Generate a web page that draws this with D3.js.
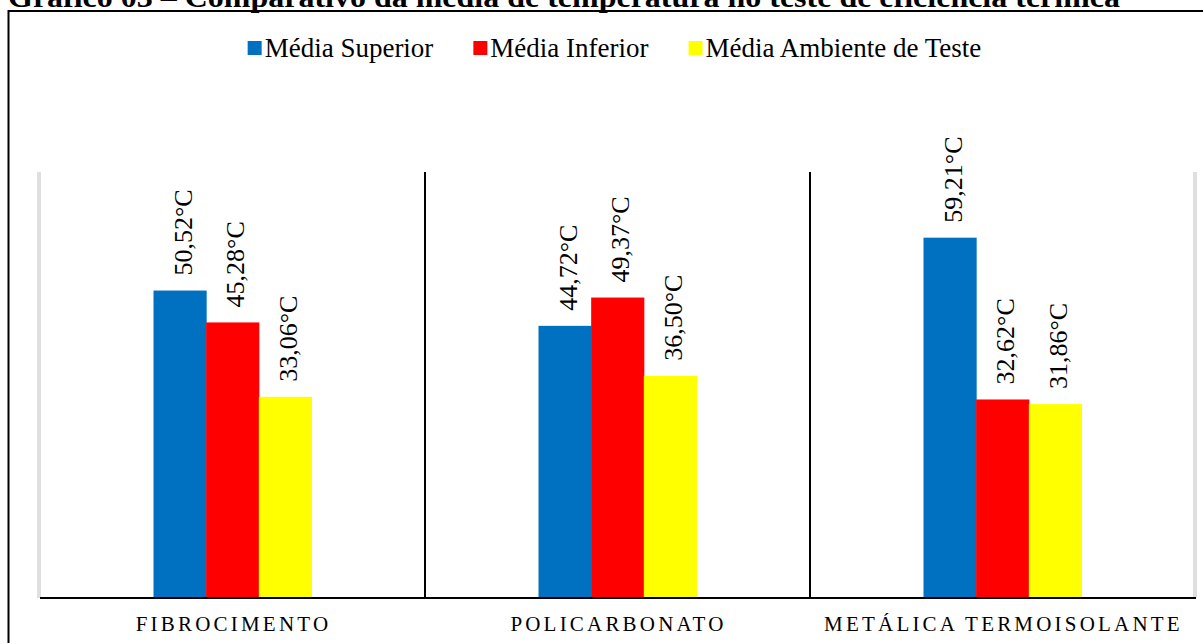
<!DOCTYPE html>
<html>
<head>
<meta charset="utf-8">
<script src="https://cdn.jsdelivr.net/npm/d3@7"></script>
<style>
    body { margin: 0; background: #fff; }
</style>
</head>
<body>
<div id="chart"></div>
<script>
// data
const categories = ["FIBROCIMENTO", "POLICARBONATO", "METÁLICA TERMOISOLANTE"];
const seriesNames = ["Média Superior", "Média Inferior", "Média Ambiente de Teste"];
const seriesColors = ["#0070C0", "#FF0000", "#FFFF00"];
const mediaSuperior = [50.52, 44.72, 59.21];
const mediaInferior = [45.28, 49.37, 32.62];
const mediaAmbiente = [33.06, 36.50, 31.86];
const title = "Gráfico 03 – Comparativo da média de temperatura no teste de eficiência térmica";

const seriesValues = [mediaSuperior, mediaInferior, mediaAmbiente];

const serif = "'Liberation Serif', 'Times New Roman', Times, serif";
const width = 1203, height = 643;
const plot = {left: 40, right: 1195, top: 172, bottom: 598};

const svg = d3.select("#chart").append("svg")
    .attr("width", width)
    .attr("height", height)
    .style("font-family", serif);

// title (cut off at the top like the original)
svg.append("text")
    .attr("x", 8)
    .attr("y", 7)
    .attr("textLength", 1112)
    .attr("lengthAdjust", "spacingAndGlyphs")
    .style("font-size", "29px")
    .style("font-weight", "bold")
    .text(title);

// outer frame: only top and left are visible
svg.append("path")
    .attr("d", "M8.5,660 L8.5,11 L1210,11")
    .attr("fill", "none")
    .attr("stroke", "#000")
    .attr("stroke-width", 2);

// scales
let x = d3.scaleBand().domain(categories).range([plot.left, plot.right]).padding(0);
let xs = d3.scaleBand().domain(d3.range(seriesNames.length))
    .range([0, x.bandwidth()]).paddingInner(0).paddingOuter(2.155);
let y = d3.scaleLinear().domain([0, 70]).range([plot.bottom, plot.top]);

// gray double lines on the sides of the plot area
[[plot.left - 2, plot.left], [plot.right - 1, plot.right + 1]].forEach(pair => {
    pair.forEach(px => {
        svg.append("line")
            .attr("x1", px).attr("x2", px)
            .attr("y1", y(70)).attr("y2", plot.bottom)
            .attr("stroke", "#bfbfbf").attr("stroke-width", 1);
    });
});

// black separators between categories
svg.selectAll(".sep")
    .data(categories.slice(1))
    .enter().append("line")
    .attr("class", "sep")
    .attr("x1", d => x(d)).attr("x2", d => x(d))
    .attr("y1", y(70)).attr("y2", plot.bottom)
    .attr("stroke", "#000").attr("stroke-width", 2);

// bars
let data = [];
categories.forEach((c, i) => {
    seriesValues.forEach((vals, s) => {
        data.push({cat: c, s: s, value: vals[i]});
    });
});

svg.selectAll(".bar")
    .data(data)
    .enter().append("rect")
    .attr("class", "bar")
    .attr("x", d => x(d.cat) + xs(d.s))
    .attr("width", xs.bandwidth() + 0.5)
    .attr("y", d => y(d.value))
    .attr("height", d => plot.bottom - y(d.value))
    .style("fill", d => seriesColors[d.s]);

// value labels, rotated
svg.selectAll(".label")
    .data(data)
    .enter().append("text")
    .attr("class", "label")
    .attr("transform", d => "translate(" + (x(d.cat) + xs(d.s) + xs.bandwidth() / 2) + "," + (y(d.value) - 15) + ") rotate(-90)")
    .attr("dy", "0.45em")
    .style("font-size", "26px")
    .text(d => d.value.toFixed(2).replace(".", ",") + "°C");

// x axis line
svg.append("line")
    .attr("x1", plot.left).attr("x2", plot.right + 1)
    .attr("y1", plot.bottom).attr("y2", plot.bottom)
    .attr("stroke", "#000").attr("stroke-width", 2);

// category labels
svg.selectAll(".cat")
    .data(categories)
    .enter().append("text")
    .attr("class", "cat")
    .attr("x", d => x(d) + x.bandwidth() / 2 + 1)
    .attr("y", 631)
    .attr("text-anchor", "middle")
    .style("font-size", "21px")
    .style("letter-spacing", "3.2px")
    .text(d => d);

// legend
let legend = svg.append("g");
let lx = 0;
seriesNames.forEach((name, i) => {
    let g = legend.append("g").attr("transform", "translate(" + lx + ",0)");
    g.append("rect")
        .attr("x", 0).attr("y", 41)
        .attr("width", 14).attr("height", 14)
        .style("fill", seriesColors[i]);
    let t = g.append("text")
        .attr("x", 17).attr("y", 57)
        .style("font-size", "27px")
        .text(name);
    lx += 17 + t.node().getComputedTextLength() + 40;
});
let legendWidth = lx - 40;
legend.attr("transform", "translate(" + (614.5 - legendWidth / 2) + ",0)");
</script>
</body>
</html>
